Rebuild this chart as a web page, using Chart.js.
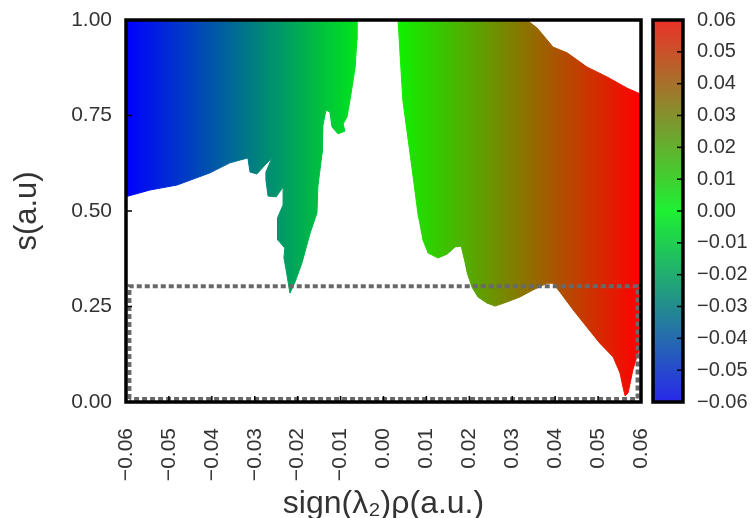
<!DOCTYPE html>
<html>
<head>
<meta charset="utf-8">
<script src="https://cdn.jsdelivr.net/npm/chart.js@4.4.1/dist/chart.umd.min.js"></script>
<style>
  html, body { margin: 0; padding: 0; background: #fff; }
  #wrap { position: relative; width: 754px; height: 518px; }
  canvas { position: absolute; top: 0; }
  #main { left: 0; }
  #bar { left: 640px; }
</style>
</head>
<body>
<div id="wrap">
  <canvas id="main" width="662" height="518"></canvas>
  <canvas id="bar" width="114" height="518"></canvas>
</div>
<script>
// outline of the blue/green cloud (left of zero), traced clockwise
const leftX = [-0.0603, -0.0062, -0.0062, -0.0066, -0.0076, -0.0085, -0.0094, -0.0090, -0.0106, -0.0120,
  -0.0125, -0.0134, -0.0141, -0.0143, -0.0153, -0.0155, -0.0171, -0.0190, -0.0206, -0.0218,
  -0.0227, -0.0232, -0.0230, -0.0246, -0.0248, -0.0246, -0.0234, -0.0234, -0.0250, -0.0269,
  -0.0274, -0.0274, -0.0260, -0.0278, -0.0295, -0.0311, -0.0316, -0.0358, -0.0404, -0.0481,
  -0.0544, -0.0595, -0.0603];
const leftS = [1.0, 1.0, 0.948, 0.877, 0.804, 0.746, 0.728, 0.709, 0.702, 0.720,
  0.759, 0.764, 0.725, 0.652, 0.563, 0.495, 0.442, 0.364, 0.314, 0.285,
  0.346, 0.377, 0.403, 0.424, 0.450, 0.482, 0.516, 0.563, 0.537, 0.539,
  0.581, 0.602, 0.639, 0.618, 0.597, 0.602, 0.639, 0.626, 0.600, 0.568,
  0.555, 0.539, 0.539];

// outline of the green/red cloud (right of zero)
const rightX = [0.0034, 0.0334, 0.0358, 0.0395, 0.0428, 0.0474, 0.0521, 0.0567, 0.0603, 0.0603,
  0.0600, 0.0593, 0.0581, 0.0570, 0.0563, 0.0558, 0.0551, 0.0535, 0.0504, 0.0474,
  0.0442, 0.0411, 0.0395, 0.0381, 0.0348, 0.0318, 0.0288, 0.0260, 0.0241, 0.0220,
  0.0206, 0.0195, 0.0190, 0.0181, 0.0167, 0.0148, 0.0127, 0.0104, 0.0092, 0.0080,
  0.0066, 0.0045, 0.0038, 0.0034];
const rightS = [1.0, 1.0, 0.979, 0.929, 0.914, 0.877, 0.851, 0.822, 0.804, 0.154,
  0.154, 0.128, 0.084, 0.024, 0.016, 0.039, 0.076, 0.118, 0.154, 0.196,
  0.241, 0.288, 0.311, 0.311, 0.293, 0.275, 0.262, 0.251, 0.259, 0.275,
  0.301, 0.338, 0.366, 0.408, 0.406, 0.387, 0.377, 0.390, 0.424, 0.495,
  0.615, 0.790, 0.921, 1.0];

// dotted selection box
const boxX = [-0.0592, -0.0592, 0.0592, 0.0592, -0.0592];
const boxS = [0.008, 0.303, 0.303, 0.008, 0.008];

const xTicks = [-0.06, -0.05, -0.04, -0.03, -0.02, -0.01, 0, 0.01, 0.02, 0.03, 0.04, 0.05, 0.06];
const yTicks = [0, 0.25, 0.5, 0.75, 1.0];
const cbTicks = [-0.06, -0.05, -0.04, -0.03, -0.02, -0.01, 0, 0.01, 0.02, 0.03, 0.04, 0.05, 0.06];

const colorRange = [-0.06, 0.06];
const plotColors = ["rgb(0,0,255)", "rgb(0,255,0)", "rgb(255,0,0)"];
const barColors = ["rgb(40,40,235)", "rgb(30,240,50)", "rgb(235,50,40)"];

Chart.defaults.font.family = "'Liberation Sans', Arial, sans-serif";
Chart.defaults.color = "#333";

function fmt(v) {
  return (v < 0 ? "\u2212" : "") + Math.abs(v).toFixed(2);
}

function toPoints(xs, ys) {
  return xs.map((x, i) => ({ x: x, y: ys[i] }));
}

// keep the plot box where the layout padding puts it
function noPad(sc) {
  sc.paddingLeft = 0;
  sc.paddingRight = 0;
  sc.paddingTop = 0;
  sc.paddingBottom = 0;
}

function xGradient(context) {
  const chart = context.chart;
  const xs = chart.scales.x;
  if (!chart.chartArea || !xs) return "rgb(0,200,0)";
  const g = chart.ctx.createLinearGradient(
    xs.getPixelForValue(colorRange[0]), 0, xs.getPixelForValue(colorRange[1]), 0);
  plotColors.forEach((c, i) => g.addColorStop(i / (plotColors.length - 1), c));
  return g;
}

// frame + inward tick marks
const framePlugin = {
  id: "frame",
  afterDatasetsDraw(chart, args, opts) {
    const { ctx, chartArea: a } = chart;
    ctx.save();
    ctx.strokeStyle = "#000";
    ctx.lineWidth = 1.5;
    opts.axes.forEach((id) => {
      const sc = chart.scales[id];
      sc.ticks.forEach((t, i) => {
        const p = sc.getPixelForTick(i);
        ctx.beginPath();
        if (sc.position === "bottom") {
          ctx.moveTo(p, a.bottom); ctx.lineTo(p, a.bottom - opts.len);
        } else if (sc.position === "left") {
          ctx.moveTo(a.left, p); ctx.lineTo(a.left + opts.len, p);
        } else {
          ctx.moveTo(a.right, p); ctx.lineTo(a.right - opts.len, p);
        }
        ctx.stroke();
      });
    });
    ctx.lineWidth = 3.5;
    ctx.strokeRect(a.left, a.top, a.right - a.left, a.bottom - a.top);
    ctx.restore();
  },
};

const mainChart = new Chart(document.getElementById("main"), {
  type: "line",
  data: {
    datasets: [
      {
        data: toPoints(boxX, boxS),
        borderColor: "rgb(105,105,105)",
        borderWidth: 4,
        borderDash: [5, 3],
        fill: false,
        pointRadius: 0,
      },
      {
        data: toPoints(leftX, leftS),
        backgroundColor: xGradient,
        borderColor: xGradient,
        borderWidth: 1,
        fill: "shape",
        pointRadius: 0,
      },
      {
        data: toPoints(rightX, rightS),
        backgroundColor: xGradient,
        borderColor: xGradient,
        borderWidth: 1,
        fill: "shape",
        pointRadius: 0,
      },
    ],
  },
  options: {
    responsive: false,
    animation: false,
    layout: { padding: { top: 20, right: 21, left: 0, bottom: 0 } },
    plugins: {
      legend: { display: false },
      tooltip: { enabled: false },
      frame: { axes: ["x", "y"], len: 6 },
    },
    scales: {
      x: {
        type: "linear",
        min: -0.06,
        max: 0.06,
        afterBuildTicks: (sc) => { sc.ticks = xTicks.map((v) => ({ value: v })); },
        afterFit: (sc) => { sc.height = 116; noPad(sc); },
        grid: { display: false, drawTicks: false },
        border: { display: false },
        ticks: {
          minRotation: 90,
          maxRotation: 90,
          padding: 26,
          font: { size: 21 },
          callback: (v) => fmt(v),
        },
        title: {
          display: true,
          text: "sign(\u03bb\u2082)\u03c1(a.u.)",
          font: { size: 32, lineHeight: 0.85 },
          padding: { top: 0, bottom: 0 },
        },
      },
      y: {
        min: 0,
        max: 1,
        afterBuildTicks: (sc) => { sc.ticks = yTicks.map((v) => ({ value: v })); },
        afterFit: (sc) => { sc.width = 126; noPad(sc); },
        grid: { display: false, drawTicks: false },
        border: { display: false },
        ticks: {
          padding: 14,
          font: { size: 21 },
          callback: (v) => v.toFixed(2),
        },
        title: {
          display: true,
          text: "s(a.u)",
          font: { size: 31, lineHeight: 1 },
          padding: { top: 12, bottom: 0 },
        },
      },
    },
  },
  plugins: [framePlugin],
});

const barChart = new Chart(document.getElementById("bar"), {
  type: "bar",
  data: {
    labels: [""],
    datasets: [
      {
        data: [colorRange],
        barPercentage: 1,
        categoryPercentage: 1,
        borderWidth: 0,
        backgroundColor: (context) => {
          const chart = context.chart;
          const ys = chart.scales.y;
          if (!chart.chartArea || !ys) return "rgb(30,240,50)";
          const g = chart.ctx.createLinearGradient(
            0, ys.getPixelForValue(colorRange[0]), 0, ys.getPixelForValue(colorRange[1]));
          barColors.forEach((c, i) => g.addColorStop(i / (barColors.length - 1), c));
          return g;
        },
      },
    ],
  },
  options: {
    responsive: false,
    animation: false,
    layout: { padding: { top: 20, left: 13, right: 0, bottom: 116 } },
    plugins: {
      legend: { display: false },
      tooltip: { enabled: false },
      frame: { axes: ["y"], len: 6 },
    },
    scales: {
      x: { display: false },
      y: {
        position: "right",
        min: colorRange[0],
        max: colorRange[1],
        afterBuildTicks: (sc) => { sc.ticks = cbTicks.map((v) => ({ value: v })); },
        afterFit: (sc) => { sc.width = 71; noPad(sc); },
        grid: { display: false, drawTicks: false },
        border: { display: false },
        ticks: {
          padding: 14,
          font: { size: 20 },
          callback: (v) => fmt(v),
        },
      },
    },
  },
  plugins: [framePlugin],
});
</script>
</body>
</html>
